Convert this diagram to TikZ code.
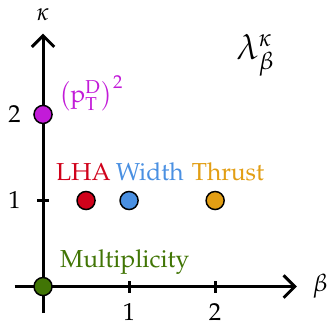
\documentclass[tikz,border=0pt]{standalone}
\usepackage[T1]{fontenc}
\usepackage{amsmath}
\usepackage{mathpazo}
\usepackage{tikz}
\usetikzlibrary{calc,arrows.meta}

\definecolor{lhared}{HTML}{D0021B}
\definecolor{widthblue}{HTML}{4A90E2}
\definecolor{thrustorange}{HTML}{E29E14}
\definecolor{multgreen}{HTML}{417505}
\definecolor{ptdpurple}{HTML}{C21BD8}

\tikzset{
    >={Straight Barb[length=1.6mm, width=3.2mm]},
    angdot/.style={circle, draw=black, semithick, minimum size=0.21cm*1.23, inner sep=0pt},
}

\begin{document}
\begin{tikzpicture}[x=1.23cm, y=1.23cm]
    \useasboundingbox (-0.5,-0.44) rectangle (3.3,3.33);
    \draw[very thick, ->] (-0.33,0) -- (2.95,0) node(betaend){};
    \draw[very thick, ->] (0,-0.31) -- (0,2.94) node(kappaend){};
    \node at (3.22,0) {$\beta$};
    \node at (0,3.16) {$\kappa$};
    % ticks
    \draw[very thick] (1,-0.07) -- (1,0.07) node(xone){};
    \draw[very thick] (2,-0.07) -- (2,0.07) node(xtwo){};
    \draw[very thick] (-0.07,1) -- (0.07,1) node(yone){};
    \node at (1,-0.3) {1};
    \node at (2,-0.3) {2};
    \node at (-0.33,1) {1};
    \node at (-0.33,2) {2};
    \node at (2.47,2.69) {\Large $\lambda^\kappa_\beta$};
    % angularities
    \node[angdot, fill=multgreen] (mult) at (0,0) {};
    \node[angdot, fill=lhared] (lha) at (0.5,1) {};
    \node[angdot, fill=widthblue] (width) at (1,1) {};
    \node[angdot, fill=thrustorange] (thrust) at (2,1) {};
    \node[angdot, fill=ptdpurple] (ptd) at (0,2) {};
    \node[text=multgreen] (multlabel) at (0.95,0.28) {Multiplicity};
    \node[text=lhared] (lhalabel) at (0.47,1.33) {LHA};
    \node[text=widthblue] (widthlabel) at (1.24,1.33) {Width};
    \node[text=thrustorange] (thrustlabel) at (2.15,1.33) {Thrust};
    \node[text=ptdpurple] (ptdlabel) at (0.56,2.24) {$\bigl(\mathrm{p}_\mathrm{T}^\mathrm{D}\bigr)^2$};
\end{tikzpicture}
\end{document}
